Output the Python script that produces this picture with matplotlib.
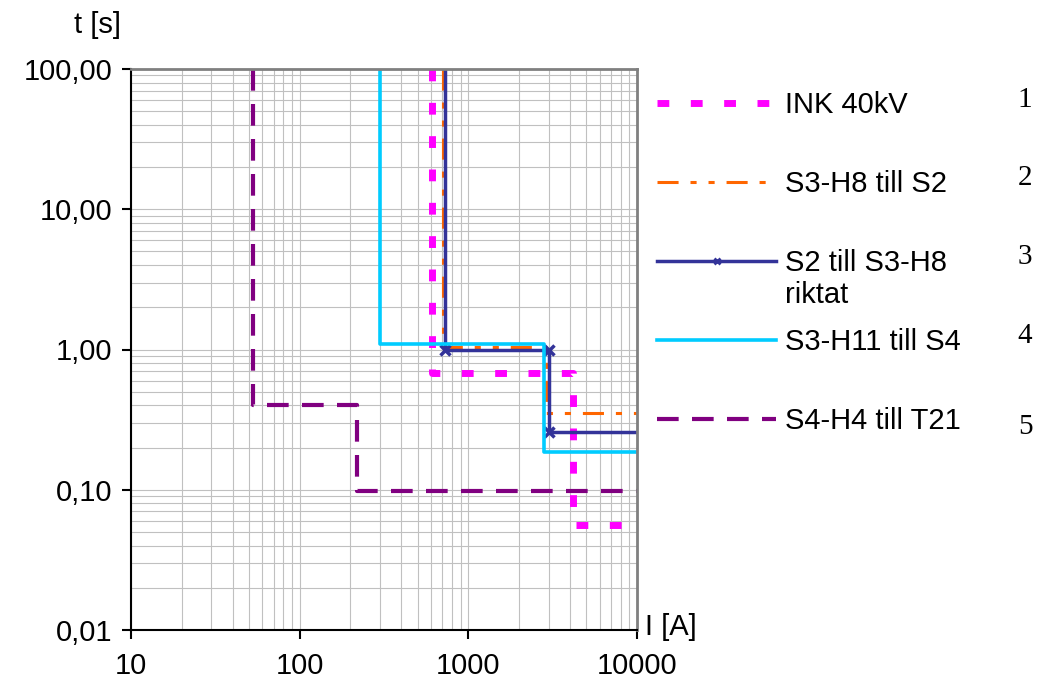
import matplotlib
matplotlib.use("Agg")
import matplotlib.pyplot as plt
from matplotlib.lines import Line2D
from matplotlib.ticker import FixedLocator, FuncFormatter, LogLocator, NullFormatter

plt.rcParams['font.family'] = ['Liberation Sans', 'DejaVu Sans']

# tripping curves, current I [A] vs time t [s]
ink_I = [610, 610, 4200, 4200, 10000]
ink_t = [100, 0.68, 0.68, 0.056, 0.056]

s3h8_I = [710, 710, 2900, 2900, 10000]
s3h8_t = [100, 1.04, 1.04, 0.35, 0.35]

s2_I = [730, 730, 3000, 3000, 10000]
s2_t = [100, 1.0, 1.0, 0.26, 0.26]

s3h11_I = [300, 300, 2800, 2800, 10000]
s3h11_t = [100, 1.1, 1.1, 0.185, 0.185]

s4h4_I = [53, 53, 220, 220, 10000]
s4h4_t = [100, 0.40, 0.40, 0.098, 0.098]

labels = ["INK 40kV", "S3-H8 till S2", "S2 till S3-H8", "S3-H11 till S4", "S4-H4 till T21"]
x_ticks = [10, 100, 1000, 10000]
y_ticks = [0.01, 0.1, 1, 10, 100]

FS = 21

fig = plt.figure(figsize=(10.38, 6.81), dpi=100)
ax = fig.add_axes([131/1038, 51/681, 506/1038, 561/681])
ax.set_xscale('log')
ax.set_yscale('log')

l1, = ax.plot(ink_I, ink_t, color='#FF00FF', lw=5, dashes=(1.7, 3.1), dash_capstyle='butt')
l2, = ax.plot(s3h8_I, s3h8_t, color='#FF6600', lw=2.2, dashes=(6.9, 3.9, 2, 3.9, 2, 3.9),
              dash_capstyle='butt')
l3, = ax.plot(s2_I, s2_t, color='#333399', lw=2.5)
ax.plot(s2_I[1:4], s2_t[1:4], ls='none', marker='x', ms=7, mew=2.5, color='#333399')
l4, = ax.plot(s3h11_I, s3h11_t, color='#00CCFF', lw=2.6)
l5, = ax.plot(s4h4_I, s4h4_t, color='#800080', lw=3, dashes=(5.2, 3.2), dash_capstyle='butt')

ax.set_xlim(10, 10000)
ax.set_ylim(0.01, 100)

ax.xaxis.set_major_locator(FixedLocator(x_ticks))
ax.xaxis.set_major_formatter(FuncFormatter(lambda v, p: str(int(round(v)))))
ax.yaxis.set_major_locator(FixedLocator(y_ticks))
ax.yaxis.set_major_formatter(FuncFormatter(lambda v, p: f"{v:.2f}".replace('.', ',')))
for axis in (ax.xaxis, ax.yaxis):
    axis.set_minor_locator(LogLocator(base=10, subs=range(2, 10), numticks=20))
    axis.set_minor_formatter(NullFormatter())

ax.grid(which='both', color='#C0C0C0', lw=0.8)
ax.set_axisbelow(True)
ax.tick_params(which='major', direction='out', length=6.5, width=1.5, labelsize=FS, color='black')
ax.tick_params(axis='y', pad=7)
ax.tick_params(axis='x', pad=9)
ax.tick_params(which='minor', length=0)

for s in ('left', 'bottom'):
    ax.spines[s].set_color('black')
    ax.spines[s].set_linewidth(1.5)
for s in ('top', 'right'):
    ax.spines[s].set_color('#808080')
    ax.spines[s].set_linewidth(2)

# legend with a proxy for the marker line
h3 = Line2D([], [], color='#333399', lw=2.5, marker='x', ms=5, mew=2)
ax.legend([l1, l2, h3, l4, l5], labels, loc='upper left',
          bbox_to_anchor=(657/1038, 1 - 91/681), bbox_transform=fig.transFigure,
          frameon=False, fontsize=FS, handlelength=4.08, handletextpad=0.31,
          labelspacing=1.75, borderpad=0, borderaxespad=0, numpoints=1)
fig.text(785/1038, 1 - 295/681, 'riktat', fontsize=FS, va='center', ha='left')

fig.text(98/1038, 1 - 25/681, 't [s]', fontsize=FS, ha='center', va='center')
fig.text(671/1038, 1 - 627/681, 'I [A]', fontsize=FS, ha='center', va='center')

num_y = [100, 178, 257, 336, 427]
for i, y in enumerate(num_y):
    fig.text(1025/1038, 1 - y/681, str(i + 1), fontsize=21, family='Liberation Serif',
             ha='center', va='center')

fig.savefig('out.png', dpi=100)
